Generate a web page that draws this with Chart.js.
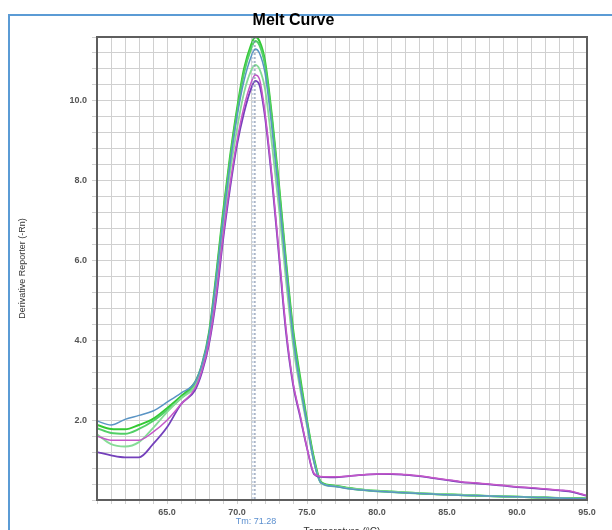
<!DOCTYPE html>
<html>
<head>
<meta charset="utf-8">
<script src="https://cdn.jsdelivr.net/npm/chart.js@4/dist/chart.umd.min.js"></script>
<style>
    html, body { margin: 0; padding: 0; background: #fff; }
    #wrap { position: relative; width: 612px; height: 530px; overflow: hidden; }
    #frame { position: absolute; left: 8px; top: 14px; width: 700px; height: 600px;
             border-left: 2px solid #5b9bd5; border-top: 2px solid #5b9bd5; }
    #grafico { position: absolute; left: 0; top: 0; }
</style>
</head>
<body>
<div id="wrap">
    <div id="frame"></div>
    <canvas id="grafico" width="612" height="530"></canvas>
</div>
<script>
// temperaturas (°C)
const temperaturas = [60, 61, 62, 63, 64, 65, 66, 67, 67.5, 68, 68.5, 69, 69.5, 70, 70.5, 71, 71.3, 71.6,
    72, 72.5, 73, 73.5, 74, 74.5, 75, 75.5, 76, 77, 78, 79, 80, 81, 82, 83, 84, 85, 86, 87, 88, 89, 90, 91, 92, 93, 94, 95];

const pozoMorado = [1.2, 1.12, 1.07, 1.07, 1.4, 1.82, 2.4, 2.75, 3.2, 3.9, 5.0, 6.5, 7.8, 8.9, 9.7, 10.3, 10.5, 10.4,
    9.6, 8.0, 6.1, 4.2, 2.9, 2.1, 1.3, 0.65, 0.58,
    0.57, 0.6, 0.63, 0.65, 0.65, 0.63, 0.6, 0.55, 0.5, 0.45, 0.42, 0.39, 0.36, 0.32, 0.3, 0.27, 0.24, 0.2, 0.1];
const pozoRosa = [1.6, 1.5, 1.5, 1.5, 1.7, 2.0, 2.4, 2.8, 3.25, 3.95, 5.1, 6.6, 7.9, 9.0, 9.85, 10.45, 10.65, 10.55,
    9.7, 8.1, 6.2, 4.3, 2.95, 2.15, 1.3, 0.67, 0.59,
    0.58, 0.6, 0.63, 0.65, 0.66, 0.64, 0.61, 0.56, 0.51, 0.46, 0.43, 0.4, 0.37, 0.33, 0.31, 0.28, 0.25, 0.21, 0.11];
const pozoAzul = [1.98, 1.88, 2.02, 2.12, 2.23, 2.45, 2.68, 2.95, 3.4, 4.15, 5.5, 7.0, 8.4, 9.6, 10.5, 11.1, 11.3, 11.2,
    10.7, 9.3, 7.6, 5.8, 4.1, 2.9, 1.9, 0.95, 0.43,
    0.34, 0.28, 0.25, 0.22, 0.2, 0.18, 0.16, 0.15, 0.13, 0.12, 0.11, 0.1, 0.09, 0.08, 0.07, 0.06, 0.05, 0.04, 0.03];
const pozoVerdeClaro = [1.65, 1.4, 1.34, 1.45, 1.8, 2.2, 2.55, 2.85, 3.3, 4.0, 5.3, 6.8, 8.2, 9.3, 10.2, 10.75, 10.9, 10.8,
    10.3, 8.9, 7.3, 5.5, 3.9, 2.8, 1.85, 0.95, 0.42,
    0.34, 0.29, 0.26, 0.23, 0.21, 0.19, 0.17, 0.16, 0.14, 0.13, 0.12, 0.1, 0.09, 0.08, 0.07, 0.06, 0.05, 0.04, 0.03];
const pozoVerde2 = [1.8, 1.68, 1.66, 1.78, 1.98, 2.25, 2.55, 2.9, 3.35, 4.1, 5.5, 7.1, 8.5, 9.7, 10.7, 11.3, 11.5, 11.4,
    10.9, 9.5, 7.8, 5.9, 4.2, 3.0, 1.95, 1.0, 0.44,
    0.35, 0.29, 0.25, 0.22, 0.2, 0.18, 0.16, 0.15, 0.14, 0.12, 0.11, 0.1, 0.09, 0.08, 0.07, 0.06, 0.05, 0.04, 0.03];
const pozoVerde = [1.88, 1.78, 1.77, 1.88, 2.03, 2.3, 2.6, 2.95, 3.4, 4.2, 5.6, 7.2, 8.6, 9.8, 10.8, 11.4, 11.6, 11.5,
    11.0, 9.6, 7.9, 6.0, 4.3, 3.1, 2.0, 1.05, 0.45,
    0.36, 0.3, 0.26, 0.23, 0.21, 0.19, 0.17, 0.15, 0.14, 0.13, 0.11, 0.1, 0.09, 0.08, 0.07, 0.06, 0.05, 0.05, 0.04];

const tm = 71.28;
const ticksX = [65, 70, 75, 80, 85, 90, 95];
const ticksY = [2, 4, 6, 8, 10];

const series = [
    { datos: pozoRosa, color: '#c456c8', ancho: 1.5 },
    { datos: pozoMorado, color: '#7440bb', ancho: 1.8 },
    { datos: pozoAzul, color: '#5a94c4', ancho: 1.5 },
    { datos: pozoVerdeClaro, color: '#86dc96', ancho: 1.8 },
    { datos: pozoVerde2, color: '#52cf66', ancho: 2 },
    { datos: pozoVerde, color: '#33c933', ancho: 2 }
];

const decoracion = {
    id: 'decoracion',
    afterDatasetsDraw(chart) {
        const { ctx, chartArea: a, scales: { x } } = chart;
        const px = x.getPixelForValue(tm);
        ctx.save();
        ctx.setLineDash([2, 2]);
        ctx.lineWidth = 1;
        ctx.strokeStyle = '#a9bcd6';
        ctx.beginPath(); ctx.moveTo(px - 2, a.top); ctx.lineTo(px - 2, a.bottom); ctx.stroke();
        ctx.strokeStyle = '#6f80a0';
        ctx.beginPath(); ctx.moveTo(px, a.top); ctx.lineTo(px, a.bottom); ctx.stroke();
        ctx.setLineDash([]);
        ctx.strokeStyle = '#5e5e5e';
        ctx.lineWidth = 2;
        ctx.strokeRect(a.left, a.top, a.right - a.left, a.bottom - a.top);
        ctx.fillStyle = '#5b8fcf';
        ctx.font = '9px "Liberation Sans", Arial, sans-serif';
        ctx.textAlign = 'center';
        ctx.textBaseline = 'middle';
        ctx.fillText('Tm: ' + tm.toFixed(2), px + 1, 522);
        ctx.restore();
    }
};

const ctx = document.getElementById('grafico').getContext('2d');
new Chart(ctx, {
    type: 'line',
    data: {
        datasets: series.map(s => ({
            data: temperaturas.map((t, i) => ({ x: t, y: s.datos[i] })),
            borderColor: s.color,
            borderWidth: s.ancho,
            pointRadius: 0,
            fill: false,
            cubicInterpolationMode: 'monotone'
        }))
    },
    options: {
        responsive: false,
        animation: false,
        layout: { padding: { left: 0, right: 25, top: 0, bottom: 0 } },
        plugins: {
            legend: { display: false },
            tooltip: { enabled: false },
            title: {
                display: true,
                text: 'Melt Curve',
                color: '#000',
                font: { family: '"Liberation Sans", Arial, sans-serif', size: 16, weight: 'bold' },
                padding: { top: 11, bottom: 6.8 }
            }
        },
        scales: {
            x: {
                type: 'linear',
                min: 60,
                max: 95,
                afterFit: (scale) => { scale.height = 30; },
                border: { display: false },
                grid: { color: '#d0d0d0', lineWidth: 1, tickLength: 4 },
                ticks: {
                    stepSize: 1,
                    autoSkip: false,
                    maxRotation: 0,
                    padding: 3,
                    color: '#555',
                    font: { family: '"Liberation Sans", Arial, sans-serif', size: 9, weight: 'bold' },
                    callback: (v) => ticksX.includes(v) ? v.toFixed(1) : ''
                },
                title: {
                    display: true,
                    text: 'Temperature (°C)',
                    color: '#333',
                    font: { family: '"Liberation Sans", Arial, sans-serif', size: 10 },
                    padding: { top: 0, bottom: -8 }
                }
            },
            y: {
                min: 0,
                max: 11.6,
                afterFit: (scale) => { scale.width = 97; },
                border: { display: false },
                grid: { color: '#d0d0d0', lineWidth: 1, tickLength: 5 },
                ticks: {
                    stepSize: 0.4,
                    autoSkip: false,
                    padding: 5,
                    color: '#555',
                    font: { family: '"Liberation Sans", Arial, sans-serif', size: 9, weight: 'bold' },
                    callback: (v) => {
                        const r = Math.round(v * 10) / 10;
                        return ticksY.includes(r) ? r.toFixed(1) : '';
                    }
                },
                title: {
                    display: true,
                    text: 'Derivative Reporter (-Rn)',
                    color: '#333',
                    font: { family: '"Liberation Sans Narrow", "Liberation Sans", Arial, sans-serif', size: 9 },
                    padding: { top: 17, bottom: 0 }
                }
            }
        }
    },
    plugins: [decoracion]
});
</script>
</body>
</html>
